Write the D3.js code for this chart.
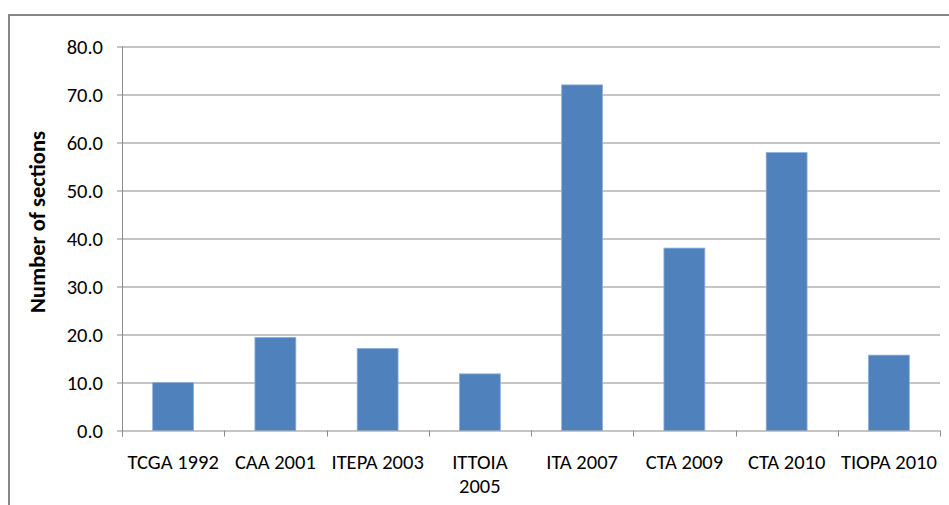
<!DOCTYPE html>
<html>
<head>
<meta charset="utf-8">
<script src="https://cdn.jsdelivr.net/npm/d3@7"></script>
<style>
  body { margin: 0; background: #fff; }
  svg text { font-family: Carlito, Calibri, Lato, sans-serif; fill: #000; }
</style>
</head>
<body>
<div id="chart"></div>
<script>
const categories = ["TCGA 1992", "CAA 2001", "ITEPA 2003", "ITTOIA 2005", "ITA 2007", "CTA 2009", "CTA 2010", "TIOPA 2010"];
const xLabels = [["TCGA 1992"], ["CAA 2001"], ["ITEPA 2003"], ["ITTOIA", "2005"], ["ITA 2007"], ["CTA 2009"], ["CTA 2010"], ["TIOPA 2010"]];
const sections = [10, 19.4, 17.1, 11.8, 72, 38, 57.9, 15.7];
const yTicks = [0, 10, 20, 30, 40, 50, 60, 70, 80];

let width = 949,
    height = 505,
    margin = { top: 46.5, left: 122, right: 9, bottom: 74.5 };
let plotW = width - margin.left - margin.right,
    plotH = height - margin.top - margin.bottom;

let svg = d3.select("#chart")
    .append("svg")
    .attr("width", width)
    .attr("height", height);

// outer chart border
svg.append("rect")
    .attr("x", 9)
    .attr("y", 15)
    .attr("width", 960)
    .attr("height", 520)
    .attr("fill", "none")
    .attr("stroke", "#878787")
    .attr("stroke-width", 2);

let g = svg.append("g")
    .attr("transform", `translate(${margin.left}, ${margin.top})`);

let xScale = d3.scaleBand()
    .domain(categories)
    .range([0, plotW])
    .paddingInner(0.6)
    .paddingOuter(0.3);

let bandStep = plotW / categories.length;

let yScale = d3.scaleLinear()
    .domain([0, 80])
    .range([plotH, 0]);

// gridlines
g.append("g")
    .selectAll("line")
    .data(yTicks.filter(d => d > 0))
    .enter()
    .append("line")
    .attr("x1", 0)
    .attr("x2", plotW)
    .attr("y1", d => Math.round(yScale(d)) + 0.5)
    .attr("y2", d => Math.round(yScale(d)) + 0.5)
    .attr("stroke", "#8c8c8c")
    .attr("stroke-width", 1);

// y axis
let yAxis = d3.axisLeft(yScale)
    .tickValues(yTicks)
    .tickSize(5)
    .tickPadding(14)
    .tickFormat(d3.format(".1f"));
let yAxisG = g.append("g").call(yAxis);
yAxisG.select(".domain").remove();
yAxisG.selectAll(".tick line").attr("stroke", "#8c8c8c");
yAxisG.selectAll(".tick text")
    .attr("font-size", 20.5)
    .attr("font-family", "Carlito, Calibri, Lato, sans-serif")
    .attr("fill", "#000");

g.append("line")
    .attr("x1", 0.5).attr("x2", 0.5)
    .attr("y1", 0).attr("y2", plotH + 6)
    .attr("stroke", "#8c8c8c");

// bars
g.selectAll("rect.bar")
    .data(sections)
    .enter()
    .append("rect")
    .attr("class", "bar")
    .attr("x", (d, i) => xScale(categories[i]))
    .attr("y", d => yScale(d))
    .attr("width", xScale.bandwidth())
    .attr("height", d => plotH - yScale(d))
    .attr("fill", "#4f81bd")
    .attr("stroke", "#8eaedb")
    .attr("stroke-width", 0.8);

// x axis
g.append("line")
    .attr("x1", 0).attr("x2", plotW)
    .attr("y1", plotH + 0.5).attr("y2", plotH + 0.5)
    .attr("stroke", "#8c8c8c");

g.append("g")
    .selectAll("line")
    .data(d3.range(categories.length + 1))
    .enter()
    .append("line")
    .attr("x1", i => Math.round(i * bandStep) + 0.5)
    .attr("x2", i => Math.round(i * bandStep) + 0.5)
    .attr("y1", plotH)
    .attr("y2", plotH + 6)
    .attr("stroke", "#8c8c8c");

// category labels, one text per line so wrapped lines stay apart
let labelG = g.append("g");
xLabels.forEach((lines, i) => {
    let cx = xScale(categories[i]) + xScale.bandwidth() / 2;
    lines.forEach((line, j) => {
        labelG.append("text")
            .attr("x", cx)
            .attr("y", plotH + 38 + j * 24.5)
            .attr("text-anchor", "middle")
            .attr("font-size", 20.5)
            .text(line);
    });
});

// y axis title
svg.append("text")
    .attr("transform", "translate(45, 222) rotate(-90)")
    .attr("text-anchor", "middle")
    .attr("font-size", 22.5)
    .attr("font-weight", "bold")
    .text("Number of sections");
</script>
</body>
</html>
